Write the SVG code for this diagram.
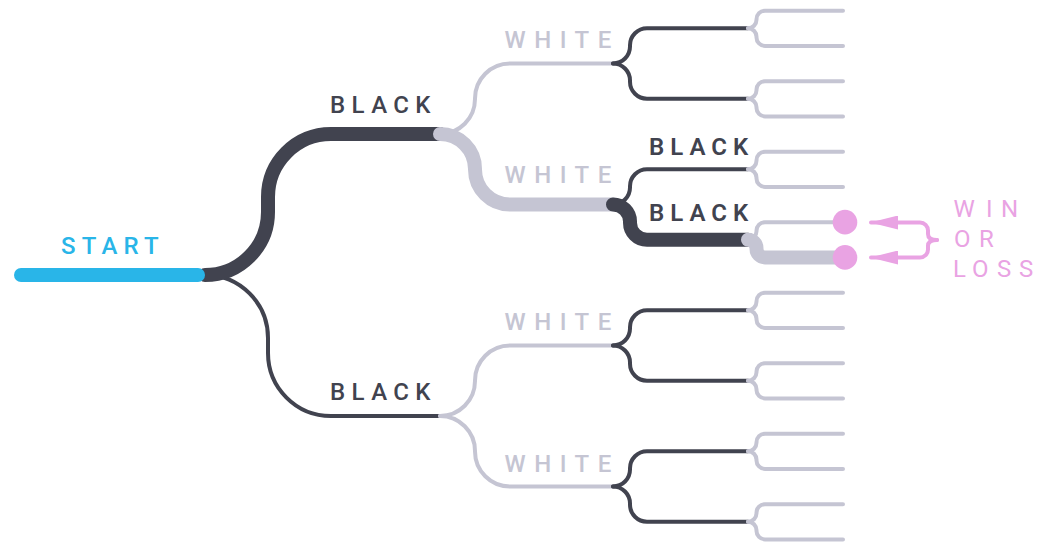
<svg xmlns="http://www.w3.org/2000/svg" width="1059" height="543" viewBox="0 0 1059 543">
  <style>
    .edge { fill: none; stroke-linecap: round; stroke-linejoin: round; }
    .thin { stroke-width: 4; }
    .thick { stroke-width: 14; }
    .dark { stroke: #41434f; }
    .gray { stroke: #c5c5d3; }
    .blue { stroke: #29b5e8; }
    .label { font-family: Roboto, "Liberation Sans", sans-serif; font-size: 24px; font-weight: 500; letter-spacing: 6.4px; }
    .label-dark { fill: #41434f; }
    .label-gray { fill: #c5c5d3; letter-spacing: 8.5px; }
    .label-blue { fill: #29b5e8; letter-spacing: 6.2px; }
    .label-strong { font-weight: 600; letter-spacing: 6px; }
    .note { font-family: Roboto, "Liberation Sans", sans-serif; font-size: 24px; font-weight: 400; fill: #e9a3e3; }
    .pink-line { fill: none; stroke: #e9a3e3; stroke-width: 4; stroke-linecap: round; stroke-linejoin: round; }
  </style>
  <defs>
    <!-- last-level fork: two short white replies from a node at (0,0) -->
    <g id="fork4">
      <path class="edge thin gray" d="M0 0 a8.5 8.5 0 0 0 8.5 -8.5 v-0.625 a8.5 8.5 0 0 1 8.5 -8.5 H95"/>
      <path class="edge thin gray" d="M0 0 a8.5 8.5 0 0 1 8.5 8.5 v0.625 a8.5 8.5 0 0 0 8.5 8.5 H95"/>
    </g>
    <!-- third-level fork: two black moves, each followed by a white fork -->
    <g id="fork3">
      <path class="edge thin dark" d="M0 0 a17 17 0 0 0 17 -17 v-1.25 a17 17 0 0 1 17 -17 H135"/>
      <path class="edge thin dark" d="M0 0 a17 17 0 0 1 17 17 v1.25 a17 17 0 0 0 17 17 H135"/>
      <use href="#fork4" x="135" y="-35.25"/>
      <use href="#fork4" x="135" y="35.25"/>
    </g>
    <marker id="pink-head" viewBox="0 0 28 14" refX="27" refY="7" markerWidth="28" markerHeight="14" markerUnits="userSpaceOnUse" orient="auto">
      <path d="M0 0 L28 7 L0 14 Z" fill="#e9a3e3"/>
    </marker>
  </defs>

  <g id="connectors">
    <!-- first move: black -->
    <path class="edge thin dark" d="M205 275 a63 63 0 0 1 63 63 v15 a63 63 0 0 0 63 63 H440"/>
    <!-- second move: white -->
    <path class="edge thin gray" d="M440 134 a35 35 0 0 0 35 -35 v-0.5 a35 35 0 0 1 35 -35 H613"/>
    <path class="edge thin gray" d="M440 416 a35 35 0 0 0 35 -35 v-0.5 a35 35 0 0 1 35 -35 H613"/>
    <path class="edge thin gray" d="M440 416 a35 35 0 0 1 35 35 v0.5 a35 35 0 0 0 35 35 H613"/>
    <!-- third and fourth moves -->
    <use href="#fork3" x="613" y="63.5"/>
    <use href="#fork3" x="613" y="345.5"/>
    <use href="#fork3" x="613" y="486.5"/>
    <path class="edge thin dark" d="M613 204.5 a17 17 0 0 0 17 -17 v-1.25 a17 17 0 0 1 17 -17 H748"/>
    <use href="#fork4" x="748" y="169.25"/>
    <path class="edge thin gray" d="M748 239.75 a8.5 8.5 0 0 0 8.5 -8.5 v-0.625 a8.5 8.5 0 0 1 8.5 -8.5 H843"/>

    <!-- the played line, drawn thick, each move over the previous one -->
    <path class="edge thick dark" d="M205 275 a63 63 0 0 0 63 -63 v-15 a63 63 0 0 1 63 -63 H440"/>
    <path class="edge thick gray" d="M440 134 a35 35 0 0 1 35 35 v0.5 a35 35 0 0 0 35 35 H613"/>
    <path class="edge thick dark" d="M613 204.5 a17 17 0 0 1 17 17 v1.25 a17 17 0 0 0 17 17 H748"/>
    <path class="edge thick gray" d="M748 239.75 a8.5 8.5 0 0 1 8.5 8.5 v0.625 a8.5 8.5 0 0 0 8.5 8.5 H843"/>
    <path class="edge thick blue" d="M21 275 H198"/>
  </g>

  <g id="start">
    <text class="label label-blue" x="61" y="254">START</text>
  </g>
  <g id="black-1">
    <text class="label label-dark" x="330" y="113">BLACK</text>
  </g>
  <g id="black-2">
    <text class="label label-dark" x="330" y="400">BLACK</text>
  </g>
  <g id="white-1">
    <text class="label label-gray" x="504.5" y="48">WHITE</text>
  </g>
  <g id="white-2">
    <text class="label label-gray" x="504.5" y="183">WHITE</text>
  </g>
  <g id="white-3">
    <text class="label label-gray" x="504.5" y="330">WHITE</text>
  </g>
  <g id="white-4">
    <text class="label label-gray" x="504.5" y="471.5">WHITE</text>
  </g>
  <g id="black-3">
    <text class="label label-dark label-strong" x="649" y="154.5">BLACK</text>
  </g>
  <g id="black-4">
    <text class="label label-dark label-strong" x="649" y="221">BLACK</text>
  </g>

  <g id="outcomes">
    <circle cx="845" cy="222.125" r="12.3" fill="#e9a3e3"/>
    <circle cx="845" cy="257.375" r="12.3" fill="#e9a3e3"/>
  </g>

  <g id="win-or-loss">
    <path class="pink-line" d="M937 240 Q928 240 928 234 V230.5 A8 8 0 0 0 920 222.5 H871" marker-end="url(#pink-head)"/>
    <path class="pink-line" d="M937 240 Q928 240 928 246 V249.5 A8 8 0 0 1 920 257.5 H871" marker-end="url(#pink-head)"/>
    <text class="note" x="953.5 986 1001" y="216.5">WIN</text>
    <text class="note" x="954 979" y="246.5">OR</text>
    <text class="note" x="953 972 997 1019" y="276.5">LOSS</text>
  </g>
</svg>
